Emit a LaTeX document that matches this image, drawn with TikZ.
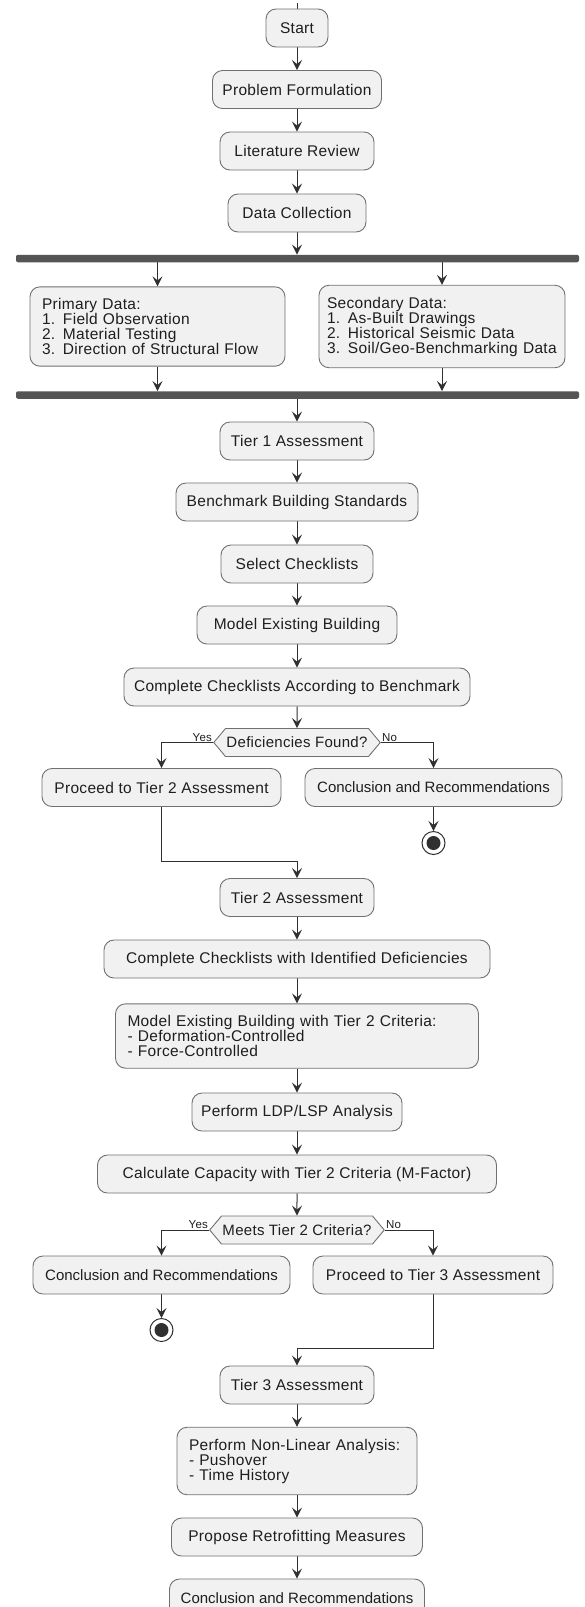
\documentclass[tikz,border=0pt]{standalone}
\usepackage{fontspec}
\usepackage{xcolor}
\usepackage{tikz}
\usetikzlibrary{backgrounds,shapes,shapes.symbols,arrows.meta}
\newfontfamily\umlfont{Liberation Sans}[LetterSpace=2]
\newfontfamily\umltight{Liberation Sans}
\definecolor{boxfill}{HTML}{F1F1F1}
\definecolor{boxline}{HTML}{707070}
\definecolor{barfill}{HTML}{555555}
\definecolor{linedark}{HTML}{303030}
\definecolor{textdark}{HTML}{1E1E1E}
\tikzstyle{activity}=[rectangle,rounded corners=10pt,draw=boxline,fill=boxfill,line width=0.9pt,minimum height=38pt,inner xsep=4pt,inner ysep=11.5pt,text=textdark,font=\umlfont\fontsize{15.5}{15}\selectfont]
\tikzstyle{closing}=[activity,font=\umltight\fontsize{15}{15}\selectfont]
\tikzstyle{listbox}=[activity,align=left,inner xsep=12pt]
\tikzstyle{decision}=[signal,signal to=west and east,signal pointer angle=100,draw=boxline,fill=boxfill,line width=0.9pt,minimum height=28pt,inner xsep=1pt,inner ysep=3pt,text=textdark,font=\umlfont\fontsize{15}{15}\selectfont]
\tikzstyle{forkbar}=[rectangle,rounded corners=2pt,fill=barfill,draw=none,minimum width=563pt,minimum height=7.5pt,inner sep=0pt]
\tikzstyle{stopnode}=[circle,draw=linedark,fill=white,line width=1pt,minimum size=23pt,inner sep=0pt,path picture={\fill[linedark] (path picture bounding box.center) circle (7pt);}]
\tikzstyle{branchlabel}=[inner sep=1pt,text=textdark,font=\umlfont\fontsize{11.5}{12}\selectfont]
\tikzstyle{flow}=[-{Stealth[length=10pt,width=10pt,inset=4pt]},draw=linedark,line width=1pt]
\tikzstyle{plain}=[-,draw=linedark,line width=1pt]
\pgfdeclarelayer{edgelayer}
\pgfdeclarelayer{nodelayer}
\pgfsetlayers{edgelayer,nodelayer,main}
\begin{document}
\begin{tikzpicture}[x=1pt,y=-1pt]
	\useasboundingbox (0,0) rectangle (584,1607);
	\begin{pgfonlayer}{nodelayer}
		\coordinate (top) at (297, 3);
		\node [style=activity, minimum width=62pt] (start) at (297, 28) {Start};
		\node [style=activity, minimum width=169pt] (formulate) at (297, 89.5) {Problem Formulation};
		\node [style=activity, minimum width=154pt] (review) at (297, 151) {Literature Review};
		\node [style=activity, minimum width=138pt] (collect) at (297, 213) {Data Collection};

		\node [style=forkbar] (fork) at (297.5, 258.5) {};
		\node [style=listbox, text width=231pt] (primary) at (157.5, 326.5) {Primary Data:\\1. Field Observation\\2. Material Testing\\3. Direction of Structural Flow};
		\node [style=listbox, text width=230pt, inner xsep=8pt] (secondary) at (442, 326.5) {Secondary Data:\\1. As-Built Drawings\\2. Historical Seismic Data\\3. Soil/Geo-Benchmarking Data};
		\node [style=forkbar] (join) at (297.5, 395) {};

		\node [style=activity, minimum width=154pt] (tierA) at (297, 441) {Tier 1 Assessment};
		\node [style=activity, minimum width=242pt] (bench) at (297, 502) {Benchmark Building Standards};
		\node [style=activity, minimum width=152pt] (select) at (297, 564) {Select Checklists};
		\node [style=activity, minimum width=200pt] (model) at (297, 625) {Model Existing Building};
		\node [style=activity, minimum width=346pt] (checkA) at (297, 687) {Complete Checklists According to Benchmark};

		\node [style=decision] (defic) at (297, 742.5) {Deficiencies Found?};
		\node [style=branchlabel, anchor=south east] (yesA) at (defic.west) {Yes};
		\node [style=branchlabel, anchor=south west] (noA) at (defic.east) {No};
		\node [style=activity, minimum width=239pt] (toB) at (161.5, 787.5) {Proceed to Tier 2 Assessment};
		\node [style=closing, minimum width=257pt] (concA) at (433.5, 787.5) {Conclusion and Recommendations};
		\node [style=stopnode] (stopA) at (433.5, 843) {};
		\coordinate (bendA) at (297, 861);

		\node [style=activity, minimum width=154pt] (tierB) at (297, 897.5) {Tier 2 Assessment};
		\node [style=activity, minimum width=386pt] (checkB) at (297, 959) {Complete Checklists with Identified Deficiencies};
		\node [style=listbox, text width=339pt] (modelB) at (297, 1036) {Model Existing Building with Tier 2 Criteria:\\- Deformation-Controlled\\- Force-Controlled};
		\node [style=activity, minimum width=210pt] (linear) at (297, 1112) {Perform LDP/LSP Analysis};
		\node [style=activity, minimum width=399pt] (capacity) at (297, 1174) {Calculate Capacity with Tier 2 Criteria (M-Factor)};

		\node [style=decision] (meets) at (297, 1230) {Meets Tier 2 Criteria?};
		\node [style=branchlabel, anchor=south east] (yesB) at (meets.west) {Yes};
		\node [style=branchlabel, anchor=south west] (noB) at (meets.east) {No};
		\node [style=closing, minimum width=257pt] (concB) at (161.5, 1275) {Conclusion and Recommendations};
		\node [style=activity, minimum width=240pt] (toC) at (433, 1275) {Proceed to Tier 3 Assessment};
		\node [style=stopnode] (stopB) at (161.5, 1330) {};
		\coordinate (bendB) at (297, 1348);

		\node [style=activity, minimum width=154pt] (tierC) at (297, 1385) {Tier 3 Assessment};
		\node [style=listbox, text width=216pt] (nonlinear) at (297, 1461) {Perform Non-Linear Analysis:\\- Pushover\\- Time History};
		\node [style=activity, minimum width=251pt] (retrofit) at (297, 1537) {Propose Retrofitting Measures};
		\node [style=closing, minimum width=255pt] (concC) at (297, 1598) {Conclusion and Recommendations};
	\end{pgfonlayer}
	\begin{pgfonlayer}{edgelayer}
		\draw [style=plain] (top) to (start);
		\draw [style=flow] (start) to (formulate);
		\draw [style=flow] (formulate) to (review);
		\draw [style=flow] (review) to (collect);
		\draw [style=flow] (collect.south) to (collect.south |- fork.north);
		\draw [style=flow] (primary.north |- fork.south) to (primary.north);
		\draw [style=flow] (secondary.north |- fork.south) to (secondary.north);
		\draw [style=flow] (primary.south) to (primary.south |- join.north);
		\draw [style=flow] (secondary.south) to (secondary.south |- join.north);
		\draw [style=flow] (tierA.north |- join.south) to (tierA.north);
		\draw [style=flow] (tierA) to (bench);
		\draw [style=flow] (bench) to (select);
		\draw [style=flow] (select) to (model);
		\draw [style=flow] (model) to (checkA);
		\draw [style=flow] (checkA) to (defic);
		\draw [style=flow] (defic.west) -| (toB.north);
		\draw [style=flow] (defic.east) -| (concA.north);
		\draw [style=flow] (concA) to (stopA);
		\draw [style=flow] (toB.south) |- (bendA) to (tierB.north);
		\draw [style=flow] (tierB) to (checkB);
		\draw [style=flow] (checkB) to (modelB);
		\draw [style=flow] (modelB) to (linear);
		\draw [style=flow] (linear) to (capacity);
		\draw [style=flow] (capacity) to (meets);
		\draw [style=flow] (meets.west) -| (concB.north);
		\draw [style=flow] (meets.east) -| (toC.north);
		\draw [style=flow] (concB) to (stopB);
		\draw [style=flow] (toC.south) |- (bendB) to (tierC.north);
		\draw [style=flow] (tierC) to (nonlinear);
		\draw [style=flow] (nonlinear) to (retrofit);
		\draw [style=flow] (retrofit) to (concC);
	\end{pgfonlayer}
\end{tikzpicture}
\end{document}
